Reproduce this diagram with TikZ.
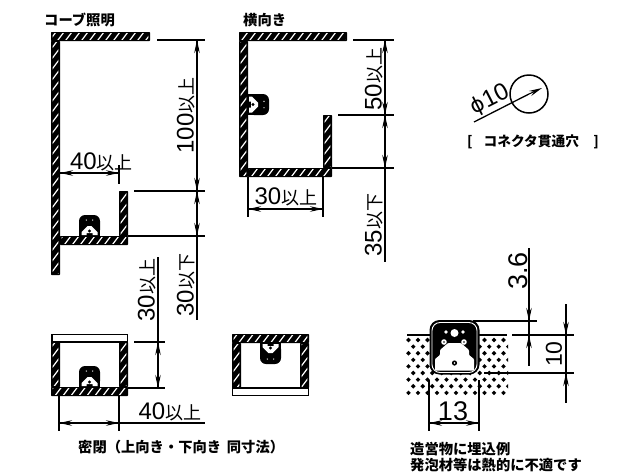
\documentclass[tikz,border=0pt]{standalone}
\usepackage{fontspec}
\setmainfont{Liberation Sans}
\newfontfamily\cjk{Noto Sans CJK JP}
\newfontfamily\dvs{DejaVu Sans}
\usetikzlibrary{arrows.meta}
\tikzset{
  dimline/.style={line width=1.3pt},
  extline/.style={line width=2pt},
  tip/.style={line width=1pt,-{Stealth[length=13pt,width=5.5pt]}},
  caption/.style={font=\cjk\bfseries\fontsize{14.3}{15}\selectfont,inner sep=0,anchor=west},
  dimtext/.style={inner sep=0},
}
\newcommand{\dimt}[2]{{\fontsize{24}{24}\selectfont #1}{\cjk\fontsize{18}{18}\selectfont #2}}
\newcommand{\hatchrect}[4]{%
  \fill[black,rounded corners=0.6pt] (#1,#2) rectangle (#3,#4);
  \begin{scope}
    \clip (#1+1.7,#2+1.7) rectangle (#3-1.7,#4-1.7);
    \foreach \k in {0,8,...,1100} {
      \draw[white,line width=1.2pt] (\k,0) -- (\k-400,533);
    }
  \end{scope}}
\newcommand{\lampshape}[3]{%
  \begin{scope}[shift={(#1,#2)},rotate=#3]
    \fill[black,rounded corners=6pt] (-10.5,0) -- (-10.5,-21) -- (10.5,-21) -- (10.5,0) -- cycle;
    \fill[black] (-10.5,-5) rectangle (10.5,0);
    \fill[white] (-8,-1) -- (-8,-4) -- (-2,-10) -- (2,-10) -- (8,-4) -- (8,-1) -- (3,-1) -- (3,-3) -- (-3,-3) -- (-3,-1) -- cycle;
    \fill[black] (0,-5) circle (1.6);
    \fill[white] (-3.2,-16) circle (0.7) (3.2,-16) circle (0.7);
  \end{scope}}
\begin{document}
\begin{tikzpicture}[x=1pt,y=-1pt]
\useasboundingbox (0,0) rectangle (632,475);
% --- cove section
\node[caption] (t1) at (44,20) {コーブ照明};
\hatchrect{51}{32}{150}{41}
\hatchrect{51}{41}{60}{275}
\hatchrect{60}{236}{128}{245}
\hatchrect{119}{191}{128}{236}
\lampshape{89.5}{236}{0}
\coordinate (a1) at (197,40); \coordinate (a2) at (197,191); \coordinate (a3) at (197,236); \coordinate (a4) at (197,320);
\draw[extline] (157,40) -- (205,40);
\draw[extline] (134,191) -- (205,191);
\draw[dimline] (128,236) -- (205,236);
\draw[dimline] (a1) -- (a4);
\draw[tip] (197,60) -- (a1);
\draw[tip] (197,170) -- (a2);
\draw[tip] (197,211) -- (a2);
\draw[tip] (197,215) -- (a3);
\node[dimtext,rotate=90] (n100) at (186,115.5) {\dimt{100}{以上}};
\node[dimtext,rotate=90] (n30a) at (186,285) {\dimt{30}{以下}};
\node[dimtext,rotate=90] (n30b) at (147,290) {\dimt{30}{以上}};
\draw[dimline] (158,257) -- (158,388);
\draw[dimline] (60,173) -- (119,173);
\draw[tip] (80,173) -- (60,173);
\draw[tip] (99,173) -- (119,173);
\draw[dimline] (119,165) -- (119,184);
\node[dimtext] (n40a) at (101.5,162) {\dimt{40}{以上}};
% --- sideways
\node[caption] (t2) at (243,20) {横向き};
\hatchrect{239}{32}{347}{41}
\hatchrect{239}{41}{248}{177}
\hatchrect{248}{168}{332}{177}
\hatchrect{323}{115}{332}{168}
\lampshape{248}{104.5}{-90}
\draw[extline] (353,40) -- (394,40);
\draw[extline] (338,115) -- (394,115);
\draw[dimline] (332,168) -- (394,168);
\draw[dimline] (385,40) -- (385,262);
\draw[tip] (385,60) -- (385,40);
\draw[tip] (385,95) -- (385,115);
\draw[tip] (385,135) -- (385,115);
\draw[tip] (385,148) -- (385,168);
\node[dimtext,rotate=90] (n50) at (374,79) {\dimt{50}{以上}};
\node[dimtext,rotate=90] (n35) at (374,225) {\dimt{35}{以下}};
\draw[dimline] (248,177) -- (248,217);
\draw[dimline] (323,177) -- (323,217);
\draw[dimline] (248,209) -- (323,209);
\draw[tip] (268,209) -- (248,209);
\draw[tip] (303,209) -- (323,209);
\node[dimtext] (n30c) at (286,197) {\dimt{30}{以上}};
% --- closed, upward
\draw[line width=1.6pt,fill=white] (52,334.5) rectangle (127.5,342);
\hatchrect{51}{342}{60}{387}
\hatchrect{119}{342}{128}{387}
\hatchrect{51}{387}{128}{396}
\lampshape{89.5}{387}{0}
\draw[dimline] (134,342) -- (165,342);
\draw[extline] (128,388) -- (165,388);
\draw[tip] (158,362) -- (158,342);
\draw[tip] (158,368) -- (158,388);
\draw[dimline] (59,396) -- (59,431);
\draw[dimline] (119,396) -- (119,431);
\draw[extline] (59,423) -- (205,423);
\draw[tip] (79,423) -- (59,423);
\draw[tip] (99,423) -- (119,423);
\node[dimtext] (n40b) at (170,412) {\dimt{40}{以上}};
% --- closed, downward
\hatchrect{232}{334}{309}{343}
\hatchrect{232}{343}{241}{388}
\hatchrect{300}{343}{309}{388}
\draw[line width=1.6pt,fill=white] (232.5,388) rectangle (308.5,395.5);
\lampshape{270.5}{343}{180}
\node[caption] (t3) at (78,447) {密閉（上向き・下向き\hspace{0.4em}同寸法）};
% --- hole
\node[circle,draw,line width=1.5pt,minimum size=38pt,inner sep=0] (hole) at (529,94) {};
\coordinate (hs) at (474,122);
\draw[dimline] (hs) -- (hole.center);
\draw[tip] (hole.center) -- (542,88);
\node[dimtext,rotate=27] (phi) at (490,100) {{\dvs\fontsize{21}{21}\selectfont ϕ}{\fontsize{24}{24}\selectfont 10}};
\node[caption,font=\cjk\bfseries\fontsize{13.7}{15}\selectfont] (t4) at (467,142) {[\hspace{0.8em}コネクタ貫通穴\hspace{1.05em}]};
% --- embedded
\begin{scope}
  \clip (406,336) rectangle (508,396);
  \foreach \r in {0,...,8} {
    \pgfmathsetmacro{\yy}{340+6.6*\r}
    \pgfmathsetmacro{\ofs}{mod(\r,2)*4.75}
    \foreach \c in {0,...,10} {
      \fill[black,shift={(408.5+\c*9.5+\ofs,\yy)}] (-2.3,0) -- (0,-2.3) -- (2.3,0) -- (0,2.3) -- cycle;
    }
  }
\end{scope}
\draw[extline] (407,335) -- (432,335);
\draw[extline] (476,335) -- (507,335);
\draw[extline] (484,373) -- (574,373);
\draw[extline] (512,335) -- (574,335);
\draw[dimline] (473,321) -- (537,321);
\fill[black,rounded corners=10pt] (429.5,374.5) -- (429.5,320) -- (479.5,320) -- (479.5,374.5) -- cycle;
\draw[white,line width=0.9pt,rounded corners=8pt] (432,372.5) -- (432,322.5) -- (477,322.5) -- (477,372.5) -- cycle;
\fill[white,rounded corners=1pt] (435,370.5) -- (435,359) -- (440,355) -- (440,350) -- (448,343) -- (461,343) -- (469,350) -- (469,355) -- (474,359) -- (474,370.5) -- cycle;
\fill[white] (454.5,333) circle (4) (444,342) circle (2.8) (464,342) circle (2.8) (446,332) circle (1.8) (463,332) circle (1.8);
\fill[black] (444,342) circle (0.9) (464,342) circle (0.9);
\fill[black] (454.5,363) circle (2.6);
\fill[white] (454.5,363) circle (0.9);
\draw[dimline] (529,248) -- (529,366);
\draw[tip] (529,300) -- (529,321);
\draw[tip] (529,355) -- (529,335);
\node[dimtext,rotate=90] (n36) at (518,271) {\fontsize{27}{27}\selectfont 3.6};
\draw[dimline] (566,304) -- (566,403);
\draw[tip] (566,315) -- (566,335);
\draw[tip] (566,393) -- (566,373);
\node[dimtext,rotate=90] (n10) at (554,354) {\fontsize{23}{23}\selectfont 10};
\draw[dimline] (429,380) -- (429,431);
\draw[dimline] (479,380) -- (479,431);
\draw[dimline] (429,423) -- (479,423);
\draw[tip] (449,423) -- (429,423);
\draw[tip] (459,423) -- (479,423);
\node[dimtext] (n13) at (453,411) {\fontsize{27}{27}\selectfont 13};
\node[caption] (t5) at (410,449) {造営物に埋込例};
\node[caption] (t6) at (410,465) {発泡材等は熱的に不適です};
\end{tikzpicture}
\end{document}
